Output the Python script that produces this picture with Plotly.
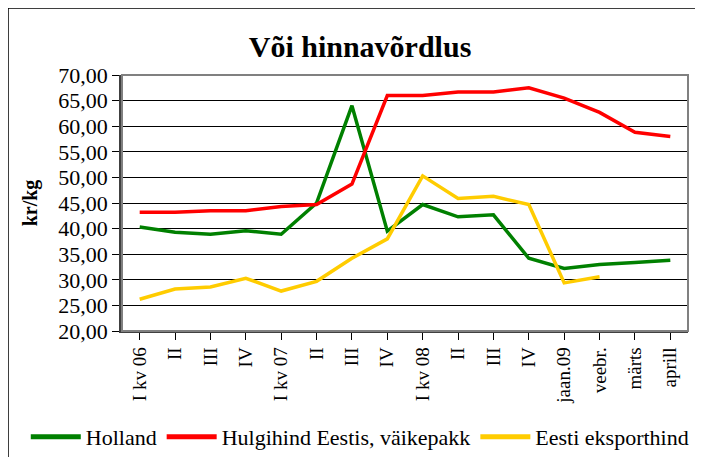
import plotly.graph_objects as go

# kvartalid / kuud
categories = ['I kv 06', 'II', 'III', 'IV', 'I kv 07', 'II', 'III', 'IV',
              'I kv 08', 'II', 'III', 'IV', 'jaan.09', 'veebr.', 'märts', 'aprill']

holland = [40.3, 39.3, 38.9, 39.6, 38.9, 45.0, 64.0, 39.5,
           44.7, 42.3, 42.7, 34.2, 32.2, 33.0, 33.4, 33.8]
hulgihind = [43.2, 43.2, 43.5, 43.5, 44.3, 44.7, 48.7, 66.0,
             66.0, 66.7, 66.7, 67.5, 65.5, 62.7, 58.8, 58.0]
eksport = [26.2, 28.2, 28.6, 30.3, 27.8, 29.7, 34.2, 38.0,
           50.3, 45.9, 46.3, 44.7, 29.4, 30.6, None, None]

series_names = ['Holland', 'Hulgihind Eestis, väikepakk', 'Eesti eksporthind']
colors = ['#008000', '#FF0000', '#FFCC00']

x = list(range(len(categories)))
fig = go.Figure()
for name, vals, col in zip(series_names, [holland, hulgihind, eksport], colors):
    fig.add_trace(go.Scatter(x=x, y=vals, name=name, mode='lines',
                             line=dict(color=col, width=3.5)))

# the page body has an 8px margin, so the figure is 8px smaller than the window
font = 'Liberation Serif, Times New Roman, serif'
fig.update_layout(
    width=695, height=449,
    margin=dict(l=114, r=15, t=67, b=126, autoexpand=False),
    paper_bgcolor='white', plot_bgcolor='white',
    separators=',.',
    font=dict(family=font, size=19, color='black'),
    title=dict(text='<b>Või hinnavõrdlus</b>', x=0.5065, xanchor='center',
               y=0.915, yanchor='middle', font=dict(size=30, family=font)),
    showlegend=True,
    legend=dict(orientation='h', x=-0.17, xanchor='left',
                y=-0.414, yanchor='middle',
                font=dict(size=22), itemwidth=50, tracegroupgap=0,
                itemsizing='constant'),
    xaxis=dict(tickmode='array', tickvals=x, ticktext=categories, tickangle=-90,
               range=[-0.5, len(categories) - 0.5], showgrid=False,
               showline=True, linecolor='#404040', linewidth=1.5,
               ticks='outside', ticklen=7, tickcolor='black',
               mirror=False, zeroline=False, automargin=False,
               tickfont=dict(size=19)),
    yaxis=dict(range=[20, 70], dtick=5, tickformat='.2f', showgrid=True,
               gridcolor='black', gridwidth=1, zeroline=False,
               showline=True, linecolor='#404040', linewidth=2.5,
               ticks='outside', ticklen=7, tickcolor='black', automargin=False,
               tickfont=dict(size=22),
               title=dict(text='<b>kr/kg</b>', standoff=16, font=dict(size=20))),
)

# tick marks between categories
fig.update_xaxes(tickson='boundaries')

# plot area border (gray) and outer chart frame
fig.add_shape(type='rect', xref='paper', yref='paper', x0=0, y0=0, x1=1, y1=1,
              line=dict(color='#808080', width=2), layer='above')
fig.add_shape(type='rect', xref='paper', yref='paper', x0=-0.2014, y0=-0.6,
              x1=1.1, y1=1.2617, line=dict(color='black', width=1.5))

fig.write_html('out.html')
